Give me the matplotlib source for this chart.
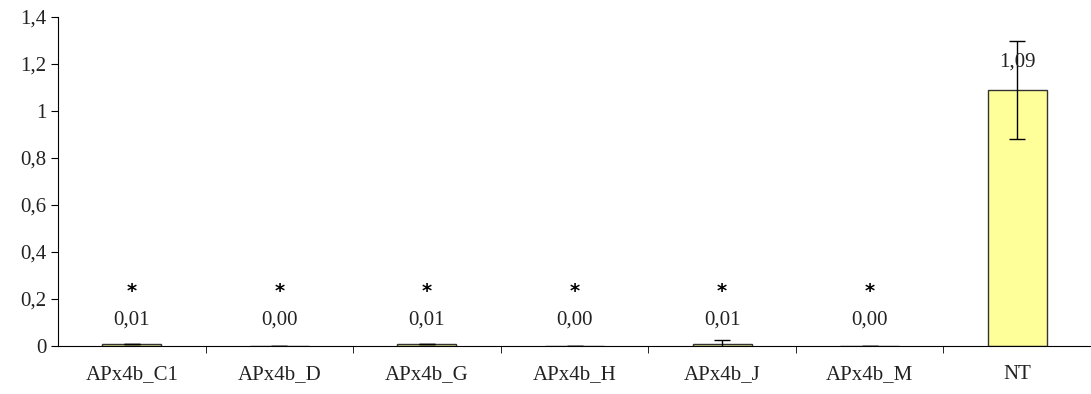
import numpy as np
import matplotlib.pyplot as plt

# --- Data ---
categories = ["APx4b_C1", "APx4b_D", "APx4b_G", "APx4b_H", "APx4b_J", "APx4b_M", "NT"]
values = [0.01, 0.00, 0.01, 0.00, 0.01, 0.00, 1.09]
errors = [0.0, 0.0, 0.0, 0.0, 0.015, 0.0, 0.21]
significant = [True, True, True, True, True, True, False]
yticks = [0, 0.2, 0.4, 0.6, 0.8, 1.0, 1.2, 1.4]
ytick_labels = ["0", "0,2", "0,4", "0,6", "0,8", "1", "1,2", "1,4"]

plt.rcParams['font.family'] = ['Liberation Serif', 'DejaVu Serif']

fig = plt.figure(figsize=(10.91, 3.94), dpi=100)
ax = fig.add_axes([58 / 1091, 1 - 346 / 394, 1 - 58 / 1091, (346 - 17) / 394])

x = np.arange(len(categories))
ax.bar(x, values, width=0.4, color="#FFFF99", edgecolor="#333333", linewidth=1,
       yerr=errors, error_kw=dict(ecolor="black", elinewidth=1, capsize=6, capthick=1))

# value labels and significance stars
for i, v in enumerate(values):
    lab = f"{v:.2f}".replace(".", ",")
    if v < 0.1:
        ax.text(x[i], 0.11, lab, ha="center", va="center", fontsize=15, color="#222222")
    else:
        ax.text(x[i], v + 0.12, lab, ha="center", va="center", fontsize=15, color="#222222")
    if significant[i]:
        ax.text(x[i], 0.23, "*", ha="center", va="center", fontsize=14,
                fontweight="bold", family="DejaVu Sans")

ax.set_xlim(-0.5, len(categories) - 0.5)
ax.set_ylim(0, 1.4)
ax.set_yticks(yticks)
ax.set_yticklabels(ytick_labels, fontsize=15, color="#222222")
ax.set_xticks(x)
ax.set_xticklabels(categories, fontsize=15, color="#222222")
ax.tick_params(axis="x", length=0, pad=14)
ax.set_xticks(np.arange(0.5, len(categories) - 0.5, 1), minor=True)
ax.tick_params(axis="x", which="minor", length=5, direction="out")
ax.tick_params(axis="y", length=5, direction="out")

ax.spines["top"].set_visible(False)
ax.spines["right"].set_visible(False)

fig.savefig("out.png", dpi=100)
